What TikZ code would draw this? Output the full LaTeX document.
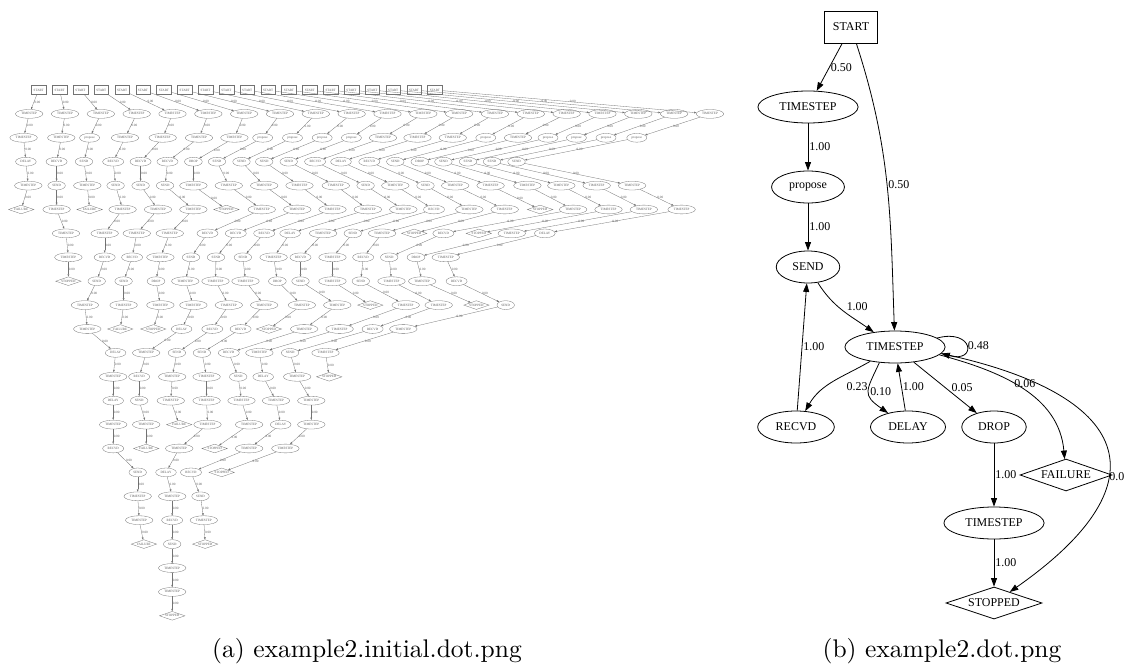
\documentclass[tikz,border=0pt]{standalone}
\usepackage{fontspec}
\newfontfamily\dotfont{Liberation Serif}
\usetikzlibrary{shapes.geometric,arrows.meta}

\newcommand\nodefontbig{\dotfont\fontsize{12}{14}\selectfont}
\newcommand\nodefontsmall{\dotfont\fontsize{3.3}{4}\selectfont}

\tikzset{
  % full size graph
  gell/.style={draw,ellipse,font=\nodefontbig,inner xsep=6.85bp,inner ysep=1bp,minimum width=46bp,minimum height=32bp,line width=0.8bp},
  gbox/.style={draw,rectangle,font=\nodefontbig,minimum width=53bp,minimum height=32bp,line width=0.8bp},
  gdia/.style={draw,diamond,aspect=3,font=\nodefontbig,inner sep=0pt,minimum width=92bp,minimum height=32bp,line width=0.8bp},
  gedge/.style={-{Triangle[length=8.5bp,width=6bp]},line width=0.8bp},
  glab/.style={font=\nodefontbig,inner sep=1bp},
  % reduced graph
  sell/.style={draw=black!55,text=black!65,ellipse,font=\nodefontsmall,inner xsep=1.9bp,inner ysep=0.3bp,minimum width=12.7bp,minimum height=8.8bp,line width=0.3bp},
  sbox/.style={draw=black!55,text=black!65,rectangle,font=\nodefontsmall,inner sep=0pt,minimum width=14.6bp,minimum height=8.8bp,line width=0.3bp},
  sdia/.style={draw=black!55,text=black!65,diamond,aspect=3,font=\nodefontsmall,inner sep=0pt,minimum width=25.5bp,minimum height=8.8bp,line width=0.3bp},
  sedge/.style={draw=black!55,-{Triangle[length=2.4bp,width=1.7bp]},line width=0.3bp},
  slab/.style={font=\nodefontsmall,text=black!65,inner sep=0.4bp,right},
  kind/START/.style={sbox}, kind/TIMESTEP/.style={sell}, kind/propose/.style={sell},
  kind/SEND/.style={sell}, kind/RECVD/.style={sell}, kind/DELAY/.style={sell},
  kind/DROP/.style={sell}, kind/FAILURE/.style={sdia}, kind/STOPPED/.style={sdia},
}

\begin{document}
\begin{tikzpicture}[x=1bp,y=-1bp]
\useasboundingbox (0,0) rectangle (1129,664);

% (a) initial graph, one row per rank
\foreach \i in {0,...,19} \node[sbox] (a0-\i) at ({38.7+20.85*\i},90) {START};
\foreach \i in {0,...,19} \node[sell] (a1-\i) at ({29.2+35.83*\i},113.9) {TIMESTEP};
\foreach \x/\lbl [count=\i from 0] in {23.6/TIMESTEP,61.3/TIMESTEP,89.6/propose,125/TIMESTEP,162.7/TIMESTEP,199/TIMESTEP,234.4/TIMESTEP,262.7/propose,292.5/propose,322.2/propose,351.4/propose,383/TIMESTEP,417.5/TIMESTEP,452.8/TIMESTEP,485.8/propose,518/TIMESTEP,548/propose,576.4/propose,606/propose,636.8/propose}
  \node[kind/\lbl] (a2-\i) at (\x,137.8) {\lbl};
\foreach \x/\lbl [count=\i from 0] in {25.9/DELAY,56.6/RECVD,84/SEND,113.2/RECVD,140.6/RECVD,167.5/RECVD,193.4/DROP,217/SEND,241.5/SEND,264.2/SEND,288.7/SEND,315.1/RECVD,341/DELAY,369.3/RECVD,395.3/SEND,419.8/DROP,443.4/SEND,468/SEND,492/SEND,516.5/SEND}
  \node[kind/\lbl] (a3-\i) at (\x,161.7) {\lbl};
\foreach \x/\lbl [count=\i from 0] in {28.3/TIMESTEP,56.6/SEND,87.3/TIMESTEP,115.6/SEND,140.6/SEND,165.1/SEND,193.4/TIMESTEP,228.8/TIMESTEP,264.2/TIMESTEP,299.5/TIMESTEP,335.8/TIMESTEP,365.6/SEND,395.3/TIMESTEP,425.5/SEND,455.2/TIMESTEP,490.6/TIMESTEP,527.4/TIMESTEP,561.3/TIMESTEP,596.7/TIMESTEP,632.1/TIMESTEP}
  \node[kind/\lbl] (a4-\i) at (\x,185.6) {\lbl};
\foreach \x/\lbl [count=\i from 0] in {21.2/FAILURE,56.6/TIMESTEP,89.6/FAILURE,122.6/TIMESTEP,158/TIMESTEP,193.4/TIMESTEP,226.4/STOPPED,261.8/TIMESTEP,297.2/TIMESTEP,332.5/TIMESTEP,367.9/TIMESTEP,403.3/TIMESTEP,434/RECVD,469.3/TIMESTEP,504.7/TIMESTEP,540.1/STOPPED,573.1/TIMESTEP,608.5/TIMESTEP,643.9/TIMESTEP,681.6/TIMESTEP}
  \node[kind/\lbl] (a5-\i) at (\x,209.5) {\lbl};
\foreach \x/\lbl [count=\i from 0] in {66/TIMESTEP,104.7/TIMESTEP,136.8/TIMESTEP,169.8/TIMESTEP,207.5/RECVD,235.8/RECVD,264.2/RECVD,290.1/DELAY,323.1/TIMESTEP,352.8/SEND,382.1/TIMESTEP,414.2/STOPPED,443.4/RECVD,478.8/STOPPED,511.8/TIMESTEP,544.8/DELAY}
  \node[kind/\lbl] (a6-\i) at (\x,233.4) {\lbl};
\foreach \x/\lbl [count=\i from 0] in {68.4/TIMESTEP,104.7/RECVD,132.1/RECVD,160.4/TIMESTEP,191/SEND,216/SEND,242.9/SEND,273.6/TIMESTEP,300.5/RECVD,332.5/TIMESTEP,363.2/RECVD,389.2/SEND,416/DROP,445.8/TIMESTEP}
  \node[kind/\lbl] (a7-\i) at (\x,257.3) {\lbl};
\foreach \x/\lbl [count=\i from 0] in {68.4/STOPPED,96.7/SEND,123.6/SEND,156/DROP,185.3/TIMESTEP,215.5/TIMESTEP,245.5/TIMESTEP,277.4/DROP,300.5/SEND,332.5/TIMESTEP,360.8/SEND,391.5/TIMESTEP,422.2/TIMESTEP,456.6/RECVD}
  \node[kind/\lbl] (a8-\i) at (\x,281.2) {\lbl};
\foreach \x/\lbl [count=\i from 0] in {84.9/TIMESTEP,123.6/TIMESTEP,160.4/TIMESTEP,193.4/TIMESTEP,228.8/TIMESTEP,264.2/TIMESTEP,301.9/TIMESTEP,337.3/TIMESTEP,370.3/STOPPED,405.7/TIMESTEP,438.7/TIMESTEP,476.4/STOPPED,505.7/SEND}
  \node[kind/\lbl] (a9-\i) at (\x,305.1) {\lbl};
\foreach \x/\lbl [count=\i from 0] in {87.3/TIMESTEP,120.3/FAILURE,153.3/STOPPED,181.6/DELAY,212.3/RECVD,240.6/RECVD,268.9/STOPPED,304.2/TIMESTEP,339.6/TIMESTEP,372.6/RECVD,403.3/TIMESTEP}
  \node[kind/\lbl] (a10-\i) at (\x,329) {\lbl};
\foreach \x/\lbl [count=\i from 0] in {115.6/DELAY,146.2/TIMESTEP,176.9/SEND,201.9/SEND,228.8/RECVD,259.4/TIMESTEP,290.1/SEND,325.5/TIMESTEP}
  \node[kind/\lbl] (a11-\i) at (\x,352.9) {\lbl};
\foreach \x/\lbl [count=\i from 0] in {113.2/TIMESTEP,139.2/RECVD,172.2/TIMESTEP,206.6/TIMESTEP,238.2/SEND,263.2/DELAY,297.2/TIMESTEP,329.2/STOPPED}
  \node[kind/\lbl] (a12-\i) at (\x,376.8) {\lbl};
\foreach \x/\lbl [count=\i from 0] in {113.2/DELAY,139.2/SEND,170.8/TIMESTEP,206.6/TIMESTEP,241.5/TIMESTEP,276/TIMESTEP,311.3/TIMESTEP}
  \node[kind/\lbl] (a13-\i) at (\x,400.7) {\lbl};
\foreach \x/\lbl [count=\i from 0] in {113.2/TIMESTEP,146.2/TIMESTEP,179.2/FAILURE,207.5/TIMESTEP,249.1/TIMESTEP,280.7/DELAY,311.3/TIMESTEP}
  \node[kind/\lbl] (a14-\i) at (\x,424.6) {\lbl};
\foreach \x/\lbl [count=\i from 0] in {113.2/RECVD,146.2/FAILURE,179.2/TIMESTEP,214.6/STOPPED,249.1/TIMESTEP,285.4/TIMESTEP}
  \node[kind/\lbl] (a15-\i) at (\x,448.5) {\lbl};
\foreach \x/\lbl [count=\i from 0] in {137.7/SEND,166/DELAY,191/RECVD,221.7/STOPPED}
  \node[kind/\lbl] (a16-\i) at (\x,472.4) {\lbl};
\foreach \x/\lbl [count=\i from 0] in {137.7/TIMESTEP,172.2/TIMESTEP,200.5/SEND}
  \node[kind/\lbl] (a17-\i) at (\x,496.3) {\lbl};
\foreach \x/\lbl [count=\i from 0] in {139.2/TIMESTEP,172.2/RECVD,203.8/TIMESTEP}
  \node[kind/\lbl] (a18-\i) at (\x,520.2) {\lbl};
\foreach \x/\lbl [count=\i from 0] in {143.9/FAILURE,172.2/SEND,205.2/STOPPED}
  \node[kind/\lbl] (a19-\i) at (\x,544.1) {\lbl};
\node[sell] (a20-0) at (172.2,568) {TIMESTEP};
\node[sell] (a21-0) at (172.2,591.9) {TIMESTEP};
\node[sdia] (a22-0) at (172.2,615.8) {STOPPED};

% edges: rank/parents that go on to the next rank
\foreach \rk/\ps in {0/{0,...,19},1/{0,...,19},2/{0,...,19},3/{0,...,19},4/{0,...,19},
    5/{1,3,4,5,7,8,9,10,11,12,13,14,16,17,18,19},6/{0,1,2,3,4,5,6,7,8,9,10,12,14,15},
    7/{0,...,13},8/{1,...,13},9/{0,1,2,3,4,5,6,7,9,10,12},10/{0,3,4,5,7,8,9,10},
    11/{0,...,7},12/{0,...,6},13/{0,...,6},14/{0,1,3,4,5,6},15/{0,2,4,5},
    16/{0,1,2},17/{0,1,2},18/{0,1,2},19/{1},20/{0},21/{0}}{
  \pgfmathtruncatemacro\nx{\rk+1}
  \foreach \pa [count=\ci from 0] in \ps
    \draw[sedge] (a\rk-\pa) -- node[slab]{0.00} (a\nx-\ci);
}

% (b) reduced graph
\node (start) at (851,27) [gbox] {START};
\node (ts1) at (808,107) [gell] {TIMESTEP};
\node (prop) at (808,187) [gell] {propose};
\node (send) at (808,267) [gell] {SEND};
\node (ts) at (895,347) [gell] {TIMESTEP};
\node (recvd) at (796,427) [gell] {RECVD};
\node (delay) at (908,427) [gell] {DELAY};
\node (drop) at (994,427) [gell] {DROP};
\node (fail) at (1066,475) [gdia] {FAILURE};
\node (ts2) at (994,523) [gell] {TIMESTEP};
\node (stop) at (994,603) [gdia,minimum width=96bp] {STOPPED};

\draw[gedge] (start) -- node[glab,right]{0.50} (ts1);
\draw[gedge] (start) to[out=-72,in=92] node[glab,right]{0.50} (ts);
\draw[gedge] (ts1) -- node[glab,right]{1.00} (prop);
\draw[gedge] (prop) -- node[glab,right]{1.00} (send);
\draw[gedge] (send) to[out=-58,in=145] node[glab,pos=.55,anchor=south west]{1.00} (ts);
\draw[gedge] (recvd) -- node[glab,right]{1.00} (send);
\draw[gedge] (ts.12) to[out=15,in=-15,looseness=6] node[glab,right]{0.48} (ts.-8);
\draw[gedge] (ts) to[out=-150,in=60] node[glab,pos=.5,anchor=west,xshift=12bp,yshift=-5bp]{0.23} (recvd);
\draw[gedge] (ts.-135) to[out=-115,in=145,looseness=1.6] node[glab,pos=.5,anchor=west]{0.10} (delay);
\draw[gedge] (delay) -- node[glab,right]{1.00} (ts);
\draw[gedge] (ts) -- node[glab,right,xshift=5bp]{0.05} (drop);
\draw[gedge] (ts.-10) to[out=-15,in=95] node[glab,pos=.5,anchor=south west,xshift=-10bp]{0.06} (fail);
\draw[gedge] (ts.-8) to[out=-12,in=35,looseness=2] node[glab,pos=.62,anchor=west]{0.0} (stop);
\draw[gedge] (drop) -- node[glab,right]{1.00} (ts2);
\draw[gedge] (ts2) -- node[glab,right]{1.00} (stop);

% captions
\node (capa) at (367,651) [scale=2.56] {(a) example2.initial.dot.png};
\node (capb) at (942,651) [scale=2.56] {(b) example2.dot.png};
\end{tikzpicture}
\end{document}
